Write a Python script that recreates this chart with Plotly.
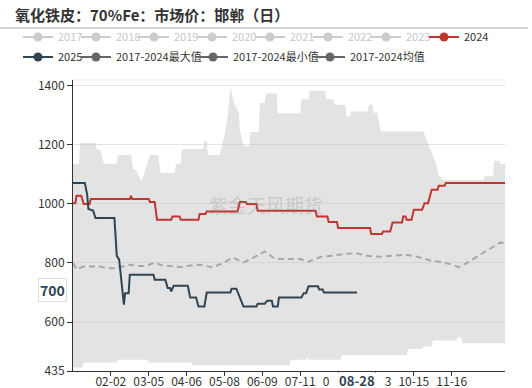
import plotly.graph_objects as go

# ---------------- data ----------------
title_text = "氧化铁皮：70%Fe：市场价：邯郸（日）"

tick_dates = ["02-02", "03-05", "04-06", "05-08", "06-09", "07-11",
              "08-12", "09-13", "10-15", "11-16"]
y_ticks = [435, 600, 800, 1000, 1200, 1400]

max_dates = ["01-01", "01-06", "01-07", "01-20", "01-21", "01-24", "01-27", "02-07", "02-08",
             "02-19", "02-21", "02-23", "02-28", "03-02", "03-06", "03-13", "03-15", "03-27",
             "03-28", "04-01", "04-02", "04-20", "04-21", "04-23", "04-24", "05-04", "05-09",
             "05-11", "05-13", "05-16", "05-20", "05-21", "05-24", "05-29", "05-30", "06-06",
             "06-07", "06-11", "06-12", "06-21", "06-22", "07-11", "07-12", "07-18", "07-19",
             "08-01", "08-02", "08-08", "08-09", "08-18", "08-19", "08-22", "08-23", "09-06",
             "09-07", "09-10", "09-11", "09-14", "09-17", "10-23", "10-26", "10-29", "11-02",
             "11-05", "11-08", "12-13", "12-14", "12-21", "12-22", "12-26", "12-27", "12-31"]
max_vals = [1135, 1135, 1205, 1205, 1182, 1182, 1135, 1135, 1165,
            1165, 1115, 1115, 1075, 1115, 1165, 1165, 1104, 1104,
            1135, 1135, 1185, 1185, 1213, 1213, 1165, 1165, 1250,
            1307, 1396, 1340, 1307, 1250, 1195, 1195, 1242, 1242,
            1340, 1340, 1372, 1372, 1306, 1306, 1353, 1353, 1382,
            1382, 1353, 1353, 1334, 1334, 1295, 1295, 1312, 1312,
            1334, 1334, 1307, 1307, 1244, 1244, 1210, 1182, 1143,
            1098, 1080, 1080, 1093, 1093, 1145, 1145, 1134, 1134]

min_dates = ["01-01", "01-09", "01-10", "02-07", "02-08", "03-04", "03-05", "04-10", "04-11",
             "07-02", "07-03", "07-16", "07-17", "07-18", "08-14", "08-15", "10-09", "10-10",
             "10-22", "10-23", "10-30", "10-31", "11-20", "11-21", "11-24", "11-25", "12-31"]
min_vals = [447, 447, 464, 464, 473, 473, 464, 464, 454,
            454, 473, 473, 484, 473, 473, 488, 488, 509,
            509, 518, 518, 538, 538, 550, 550, 529, 529]

mean_dates = ["01-01", "01-04", "01-10", "01-24", "01-30", "02-06", "02-18", "02-24", "03-03",
              "03-10", "03-16", "03-29", "04-02", "04-09", "04-17", "04-28", "05-07", "05-15",
              "05-24", "06-01", "06-11", "06-20", "06-30", "07-11", "07-18", "07-28", "08-08",
              "08-18", "08-27", "09-06", "09-17", "09-28", "10-08", "10-18", "10-29", "11-07",
              "11-15", "11-22", "11-29", "12-10", "12-19", "12-27", "12-31"]
mean_vals = [800, 779, 788, 788, 782, 782, 794, 790, 790,
             802, 792, 786, 786, 791, 794, 785, 800, 818,
             802, 817, 839, 813, 813, 813, 804, 820, 825,
             831, 833, 824, 821, 825, 828, 821, 808, 803,
             796, 786, 800, 828, 850, 869, 867]

y2024_dates = ["01-01", "01-03", "01-04", "01-08", "01-10", "01-15", "01-16", "02-18", "02-19",
               "02-20", "03-05", "03-06", "03-10", "03-12", "03-24", "03-25", "03-31", "04-01",
               "04-16", "04-17", "04-22", "04-23", "05-19", "05-21", "05-26", "05-27", "06-04",
               "06-05", "07-24", "07-25", "08-03", "08-04", "08-11", "08-12", "09-08", "09-09",
               "09-18", "09-19", "09-25", "09-27", "10-05", "10-06", "10-08", "10-09", "10-13",
               "10-15", "10-22", "10-24", "10-27", "10-30", "11-04", "11-05", "11-10", "11-11",
               "12-31"]
y2024_vals = [1002, 1002, 1027, 1027, 999, 999, 1016, 1016, 1027,
              1016, 1016, 1006, 1006, 946, 946, 957, 957, 946,
              946, 965, 965, 974, 974, 1006, 1006, 999, 999,
              976, 976, 957, 957, 938, 938, 918, 918, 898,
              898, 906, 906, 937, 937, 957, 957, 946, 946,
              980, 980, 1002, 1002, 1047, 1047, 1061, 1061, 1070,
              1070]

y2025_dates = ["01-01", "01-11", "01-13", "01-14", "01-18", "01-20", "02-05", "02-07", "02-09",
               "02-11", "02-13", "02-14", "02-17", "02-18", "03-09", "03-10", "03-19", "03-21",
               "03-23", "03-24", "03-26", "04-07", "04-09", "04-14", "04-16", "04-21", "04-23",
               "05-13", "05-14", "05-18", "05-21", "05-24", "06-04", "06-05", "06-11", "06-13",
               "06-17", "06-18", "06-22", "06-23", "07-12", "07-14", "07-16", "07-18", "07-26",
               "07-27", "07-30", "07-31", "08-28"]
y2025_vals = [1070, 1070, 1030, 982, 977, 952, 952, 824, 811,
              732, 659, 698, 698, 760, 760, 743, 743, 715,
              715, 704, 723, 723, 683, 683, 653, 653, 700,
              700, 713, 713, 683, 653, 653, 662, 662, 672,
              672, 653, 653, 683, 683, 698, 698, 721, 721,
              710, 710, 700, 700]

hidden_years = ["2017", "2018", "2019", "2020", "2021", "2022", "2023"]
last_2025 = 700
last_date = "08-28"

YEAR = "2024-"
def dx(lst):
    return [YEAR + d for d in lst]

RED = "#c23531"
DARK = "#2f4554"
GREY = "#666666"
LIGHT = "#cccccc"
FONT = "Noto Sans CJK SC, sans-serif"

fig = go.Figure()

# band min..max
fig.add_trace(go.Scatter(x=dx(min_dates), y=min_vals, mode="lines",
                         line=dict(width=0, color="rgba(0,0,0,0)"),
                         showlegend=False, hoverinfo="skip"))
fig.add_trace(go.Scatter(x=dx(max_dates), y=max_vals, mode="lines",
                         line=dict(width=0, color="rgba(0,0,0,0)"),
                         fill="tonexty", fillcolor="rgba(200,200,200,0.5)",
                         showlegend=False, hoverinfo="skip"))
# mean
fig.add_trace(go.Scatter(x=dx(mean_dates), y=mean_vals, mode="lines",
                         line=dict(width=2, color="#a8a8a8", dash="6px,4px"),
                         showlegend=False))
# 2024
fig.add_trace(go.Scatter(x=dx(y2024_dates), y=y2024_vals, mode="lines",
                         line=dict(width=2, color=RED), showlegend=False))
# 2025
fig.add_trace(go.Scatter(x=dx(y2025_dates), y=y2025_vals, mode="lines",
                         line=dict(width=2, color=DARK), showlegend=False))

# legend entries
def leg(name, color, legend, width, textcolor=None):
    label = name if textcolor is None else f"<span style='color:{textcolor}'>{name}</span>"
    fig.add_trace(go.Scatter(x=[None], y=[None], mode="lines+markers", name=label,
                             line=dict(width=2, color=color),
                             marker=dict(size=9, color=color, symbol="circle"),
                             legend=legend, legendwidth=width))

for yr in hidden_years:
    leg(yr, LIGHT, "legend", 13, textcolor="#c8c8c8")
leg("2024", RED, "legend", 40)
leg("2025", DARK, "legend2", 13)
leg("2017-2024最大值", GREY, "legend2", 72)
leg("2017-2024最小值", GREY, "legend2", 72)
leg("2017-2024均值", GREY, "legend2", 100)

L, R, T, B = 73, 27, 80, 17
W, H = 532, 388
ph = H - T - B
pw = W - L - R

def px_x(p):
    return (p - L) / pw

def px_y(p):
    return (H - B - p) / ph

legend_common = dict(orientation="h", xanchor="left", yanchor="middle", traceorder="normal",
                     font=dict(size=11, color="#333", family=FONT),
                     bgcolor="rgba(0,0,0,0)", itemsizing="trace", itemclick=False,
                     itemdoubleclick=False, tracegroupgap=0)

fig.update_layout(
    width=W, height=H,
    margin=dict(l=L, r=R, t=T, b=B, autoexpand=False),
    paper_bgcolor="white", plot_bgcolor="white",
    font=dict(family=FONT, size=12, color="#333"),
    legend=dict(x=px_x(18), y=px_y(37), **legend_common),
    legend2=dict(x=px_x(18), y=px_y(57), **legend_common),
    xaxis=dict(type="date", range=[YEAR + "01-01", YEAR + "12-31"],
               tickvals=dx(tick_dates), ticktext=tick_dates,
               showgrid=False, showline=True, linecolor="#333", linewidth=1,
               ticks="outside", ticklen=4, tickcolor="#333", ticklabelstandoff=-4,
               tickfont=dict(size=12, color="#333"), zeroline=False),
    yaxis=dict(range=[435, 1418], tickvals=y_ticks,
               showgrid=True, gridcolor="#e3e3e3", gridwidth=1,
               showline=True, linecolor="#333", linewidth=1,
               ticks="outside", ticklen=5, tickcolor="#333",
               tickfont=dict(size=12, color="#333"), zeroline=False),
    showlegend=True,
)

# title and separator
fig.add_annotation(text=f"<b>{title_text}</b>", xref="paper", yref="paper",
                   x=px_x(13), y=px_y(15), xanchor="left", yanchor="middle",
                   showarrow=False, font=dict(size=15, color="#333", family=FONT))
fig.add_shape(type="line", xref="paper", yref="paper", x0=px_x(0), x1=px_x(528),
              y0=px_y(28), y1=px_y(28), line=dict(color="#aaaaaa", width=1))
fig.add_shape(type="line", xref="paper", yref="paper", x0=0, x1=1, y0=1, y1=1,
              line=dict(color="#eeeeee", width=1), layer="below")

# watermark
fig.add_annotation(text="紫金天风期货", xref="x", yref="y", x=YEAR + "06-12", y=997,
                   showarrow=False, font=dict(size=19, color="rgba(140,140,140,0.30)", family=FONT))

# axis pointer labels
fig.add_annotation(text=f"<b>{last_2025}</b>", xref="paper", yref="y", x=0, y=last_2025,
                   xanchor="right", yanchor="middle", xshift=-6, yshift=3, showarrow=False,
                   bgcolor="white", bordercolor="#dddddd", borderwidth=1, borderpad=1,
                   font=dict(size=14, color=DARK, family=FONT))
fig.add_annotation(text=f"<b>{last_date}</b>", xref="x", yref="paper", x=YEAR + last_date, y=0,
                   xanchor="center", yanchor="top", yshift=-1, showarrow=False,
                   bgcolor="white", width=54, height=15, borderpad=0,
                   font=dict(size=13, color=DARK, family=FONT))

fig.write_html("out.html", config={"displayModeBar": False},
               post_script="document.body.style.margin='0';")
